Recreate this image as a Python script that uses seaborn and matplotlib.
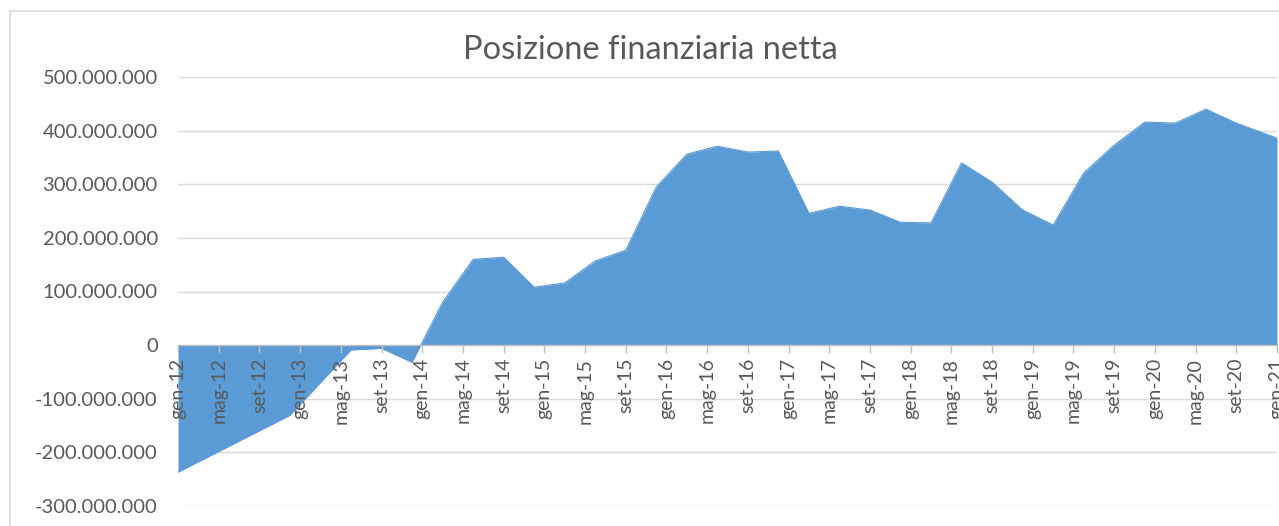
import matplotlib
matplotlib.use("Agg")
import matplotlib.pyplot as plt
from matplotlib.lines import Line2D
import seaborn as sns
import pandas as pd
import numpy as np
from matplotlib.ticker import FuncFormatter, FixedLocator

# ---- data (values in millions of euro) ----
dates = ["2012-01", "2012-12", "2013-06", "2013-09", "2013-12",
         "2014-03", "2014-06", "2014-09", "2014-12",
         "2015-03", "2015-06", "2015-09", "2015-12",
         "2016-03", "2016-06", "2016-09", "2016-12",
         "2017-03", "2017-06", "2017-09", "2017-12",
         "2018-03", "2018-06", "2018-09", "2018-12",
         "2019-03", "2019-06", "2019-09", "2019-12",
         "2020-03", "2020-06", "2020-09", "2021-01"]
values_mln = [-237, -131, -9, -6, -32,
              80, 160, 164, 108,
              116, 157, 177, 295,
              356, 371, 360, 362,
              246, 259, 252, 229,
              228, 340, 304, 252,
              224, 321, 373, 416,
              414, 440, 414, 386]
month_names = ["gen", "feb", "mar", "apr", "mag", "giu",
               "lug", "ago", "set", "ott", "nov", "dic"]
title = "Posizione finanziaria netta"
y_ticks_mln = [-300, -200, -100, 0, 100, 200, 300, 400, 500]

# ---- build table ----
df = pd.DataFrame({"date": pd.to_datetime(dates, format="%Y-%m"),
                   "value": np.array(values_mln) * 1_000_000})
start = df["date"].iloc[0]
df["month"] = (df["date"].dt.year - start.year) * 12 + (df["date"].dt.month - start.month)

sns.set_theme(style="white")
plt.rcParams["font.family"] = ["Lato", "DejaVu Sans"]

W, H = 1279, 526
fig = plt.figure(figsize=(W / 100, H / 100), dpi=100)
x0, x1 = 178, 1277
ytop, ybot = 77, 506
ax = fig.add_axes([x0 / W, (H - ybot) / H, (x1 - x0) / W, (ybot - ytop) / H])

blue = "#5B9BD5"
sns.lineplot(data=df, x="month", y="value", ax=ax, color=blue, linewidth=0.8, zorder=1.5)
ax.fill_between(df["month"], df["value"], 0, color=blue, linewidth=0, zorder=1)

ax.set_xlim(0, 108)
ax.set_ylim(y_ticks_mln[0] * 1e6, y_ticks_mln[-1] * 1e6)

# gridlines under the area
for v in y_ticks_mln:
    if v != 0:
        ax.axhline(v * 1e6, color="#d9d9d9", linewidth=1, zorder=0.5)
ax.grid(False)
ax.set_axisbelow(False)

# spines first (set_position resets ticks)
ax.spines["bottom"].set_position(("data", 0))
ax.spines["bottom"].set_color("#bfbfbf")
ax.spines["bottom"].set_linewidth(1)
ax.spines["bottom"].set_zorder(3)
for s in ["left", "right", "top"]:
    ax.spines[s].set_visible(False)

# y axis
ax.yaxis.set_major_locator(FixedLocator([v * 1e6 for v in y_ticks_mln]))
def fmt_y(v, pos):
    if abs(v) < 1:
        return "0"
    s = f"{int(round(abs(v))):,}".replace(",", ".")
    return ("-" if v < 0 else "") + s
ax.yaxis.set_major_formatter(FuncFormatter(fmt_y))
ax.tick_params(axis="y", length=0, pad=14.5, labelsize=14.5, labelcolor="#595959")

# x axis at zero
tick_months = list(range(0, 109, 4))
tick_labels = []
for m in tick_months:
    yr = start.year + (start.month - 1 + m) // 12
    mo = (start.month - 1 + m) % 12
    tick_labels.append(f"{month_names[mo]}-{str(yr)[-2:]}")
ax.set_xticks(tick_months)
ax.set_xticklabels(tick_labels, rotation=90, va="top", ha="center")
ax.tick_params(axis="x", direction="out", length=6, width=1, color="#bfbfbf",
               pad=3, labelsize=14, labelcolor="#595959", bottom=True)
ax.set_xlabel("")
ax.set_ylabel("")

fig.text(650 / W, 1 - 50 / H, title, ha="center", va="center",
         fontsize=23.5, color="#595959")

# chart border (cropped at right/bottom)
fig.add_artist(Line2D([10 / W, 10 / W], [0, 1 - 11 / H], color="#d9d9d9", linewidth=1.2))
fig.add_artist(Line2D([10 / W, 1], [1 - 11 / H, 1 - 11 / H], color="#d9d9d9", linewidth=1.2))

fig.savefig("out.png", dpi=100)
